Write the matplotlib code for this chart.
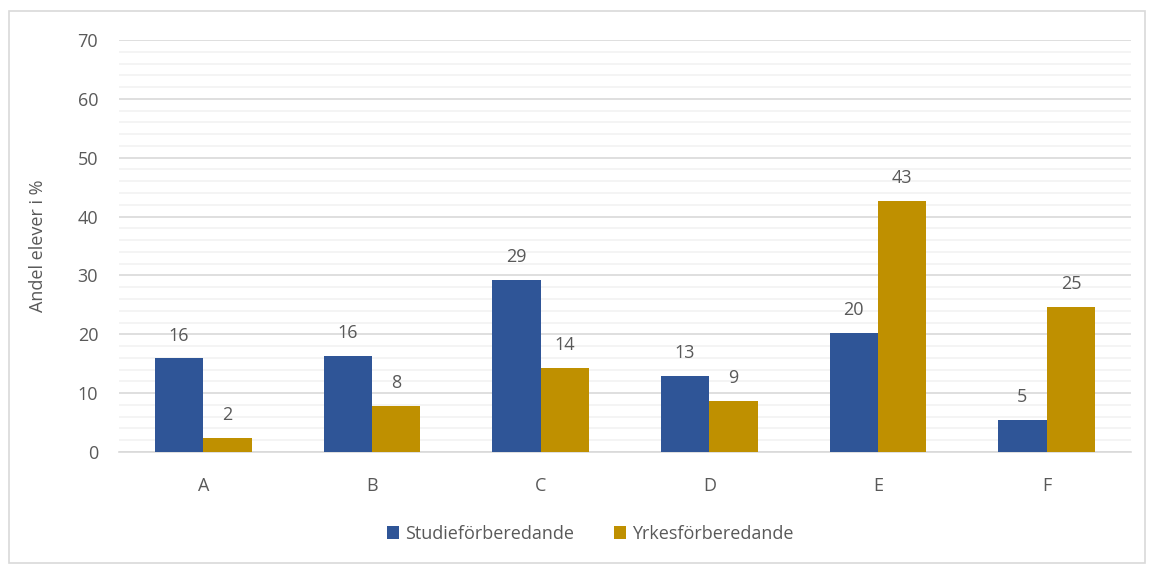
import numpy as np
import matplotlib.pyplot as plt
from matplotlib.patches import Rectangle

plt.rcParams['font.family'] = ['Open Sans', 'DejaVu Sans']

categories = ["A", "B", "C", "D", "E", "F"]
studie = [15.9, 16.25, 29.2, 12.9, 20.15, 5.38]
yrkes = [2.43, 7.8, 14.26, 8.66, 42.6, 24.6]
studie_labels = ["16", "16", "29", "13", "20", "5"]
yrkes_labels = ["2", "8", "14", "9", "43", "25"]

blue = "#2F5597"
gold = "#BF9000"
txt = "#595959"

fig = plt.figure(figsize=(11.49, 5.65), dpi=100)
ax = fig.add_axes([119 / 1149, 1 - 452 / 565, (1131 - 119) / 1149, (452 - 40) / 565])

# chart border
fig.patches.append(Rectangle((9 / 1149, 2 / 565), 1136 / 1149, 552 / 565,
                             transform=fig.transFigure, fill=False,
                             edgecolor="#D9D9D9", linewidth=1.2))

x = np.arange(len(categories))
w = 0.2875
b1 = ax.bar(x - w / 2, studie, w, color=blue, label="Studieförberedande", zorder=3)
b2 = ax.bar(x + w / 2, yrkes, w, color=gold, label="Yrkesförberedande", zorder=3)

for bars, labels in [(b1, studie_labels), (b2, yrkes_labels)]:
    for bar, lab in zip(bars, labels):
        ax.annotate(lab, (bar.get_x() + bar.get_width() / 2, bar.get_height()),
                    xytext=(0, 16.5), textcoords="offset points",
                    ha="center", va="center", fontsize=13, color=txt)

ax.set_xlim(-0.5, len(categories) - 0.5)
ax.set_ylim(0, 70)
ax.set_yticks(np.arange(0, 71, 10))
ax.set_yticks(np.arange(0, 71, 2), minor=True)
ax.grid(axis="y", which="major", color="#D9D9D9", linewidth=1.2, zorder=0)
ax.grid(axis="y", which="minor", color="#F2F2F2", linewidth=1.2, zorder=0)
ax.tick_params(axis="both", which="both", length=0, labelsize=13, labelcolor=txt)
ax.tick_params(axis="x", pad=18)
ax.tick_params(axis="y", pad=15)
ax.set_xticks(x)
ax.set_xticklabels(categories)
for s in ["top", "right", "left"]:
    ax.spines[s].set_visible(False)
ax.spines["bottom"].set_color("#D9D9D9")
ax.spines["bottom"].set_linewidth(1.2)

ax.set_ylabel("Andel elever i %", fontsize=13, color=txt, labelpad=22)

fig.legend(loc="center", bbox_to_anchor=(590 / 1149, 1 - 534 / 565), ncol=2,
           frameon=False, fontsize=13, handlelength=0.7, handleheight=0.7,
           handletextpad=0.3, columnspacing=2.2, labelcolor=txt)

plt.savefig("out.png", dpi=100)
